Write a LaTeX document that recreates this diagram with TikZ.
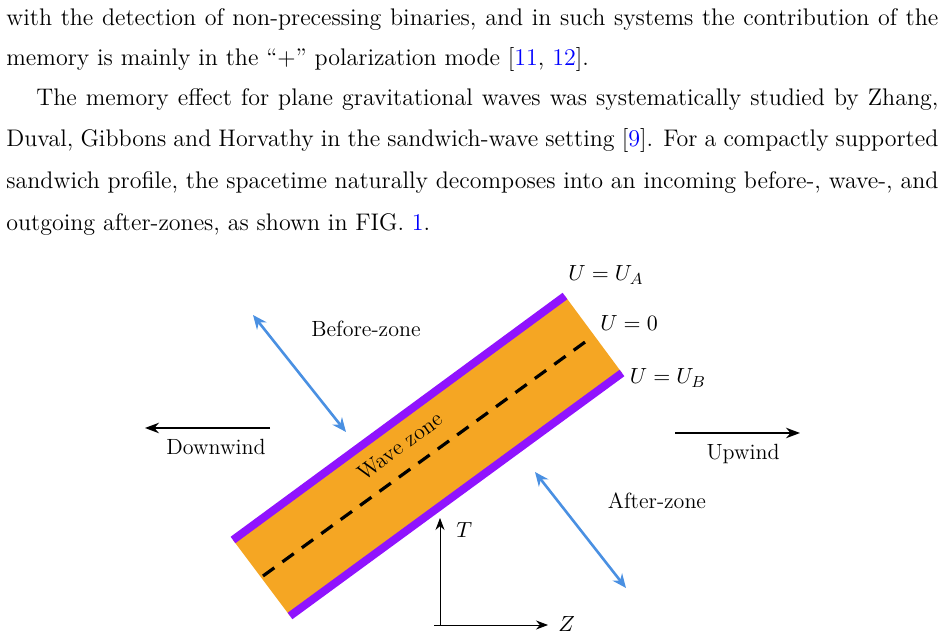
\documentclass[tikz,border=0pt,12pt]{standalone}
\usepackage{tikz}
\usetikzlibrary{arrows.meta, positioning, calc}

\definecolor{citeblue}{RGB}{0,0,255}
\definecolor{bandorange}{RGB}{245,166,35}
\definecolor{bandpurple}{RGB}{144,19,254}
\definecolor{zoneblue}{RGB}{74,144,226}
\newcommand{\refc}[1]{\textcolor{citeblue}{#1}}

\begin{document}
\begin{tikzpicture}[
  x=0.5pt, y=-0.5pt,
  textline/.style={anchor=base west, inner sep=0pt},
  label/.style={inner sep=1pt, font=\fontsize{11}{13}\selectfont},
  wind/.style={-{Stealth[length=7pt]}, thick},
  zonearrow/.style={{Stealth[length=7pt,width=6pt]}-{Stealth[length=7pt,width=6pt]}, zoneblue, line width=1.3pt},
  axis/.style={-{Stealth[length=6pt]}}
]
\useasboundingbox (0,0) rectangle (944,641);

% Paragraph text
\node[textline] (l1) at (6,26) {\makebox[466pt][s]{with the detection of non-precessing binaries, and in such systems the contribution of the}};
\node[textline] (l2) at (6,66) {memory is mainly in the ``+'' polarization mode [\refc{11}, \refc{12}].};
\node[textline] (l3) at (36,106) {\makebox[451pt][s]{The memory effect for plane gravitational waves was systematically studied by Zhang,}};
\node[textline] (l4) at (6,147) {\makebox[466pt][s]{Duval, Gibbons and Horvathy in the sandwich-wave setting [\refc{9}]. For a compactly supported}};
\node[textline] (l5) at (6,189) {\makebox[466pt][s]{sandwich profile, the spacetime naturally decomposes into an incoming before-, wave-, and}};
\node[textline] (l6) at (6,231) {outgoing after-zones, as shown in FIG. \refc{1}.};

% Wave band
\coordinate (a1) at (233,540);
\coordinate (a2) at (565,296);
\coordinate (b1) at (290,616);
\coordinate (b2) at (622,373);
\fill[bandorange] (a1) -- (a2) -- (b2) -- (b1) -- cycle;
\draw[bandpurple, line width=4pt] (a1) -- (a2);
\draw[bandpurple, line width=4pt] (b1) -- (b2);
\coordinate (d1) at (263,576);
\coordinate (d2) at (592,337);
\draw[dashed, line width=1.6pt, dash pattern=on 7pt off 5pt] (d1) -- (d2);
\node[rotate=36.3, label] (wz) at (400,446) {Wave zone};

% Boundary labels
\node[label] (ua) at (606,275) {$U=U_A$};
\node[label] (u0) at (629,323) {$U=0$};
\node[label] (ub) at (668,378) {$U=U_B$};

% Zones
\node[label] (before) at (366,329) {Before-zone};
\coordinate (bz1) at (253,315);
\coordinate (bz2) at (346,432);
\draw[zonearrow] (bz1) -- (bz2);
\node[label] (after) at (657,501) {After-zone};
\coordinate (az1) at (535,472);
\coordinate (az2) at (626,588);
\draw[zonearrow] (az1) -- (az2);

% Wind directions
\node[label] (down) at (216,447) {Downwind};
\coordinate (dw1) at (270,428);
\coordinate (dw2) at (145,428);
\draw[wind] (dw1) -- (dw2);
\node[label] (up) at (743,454) {Upwind};
\coordinate (uw1) at (675,433);
\coordinate (uw2) at (800,433);
\draw[wind] (uw1) -- (uw2);

% Axes
\coordinate (o) at (440,625);
\node[label, anchor=west] (tl) at (454,530) {$T$};
\node[label, anchor=west] (zl) at (556,624) {$Z$};
\draw[axis] (o) -- ++(0,-107) coordinate (tend);
\draw[axis] (434,625) -- (548,625) coordinate (zend);
\end{tikzpicture}
\end{document}
